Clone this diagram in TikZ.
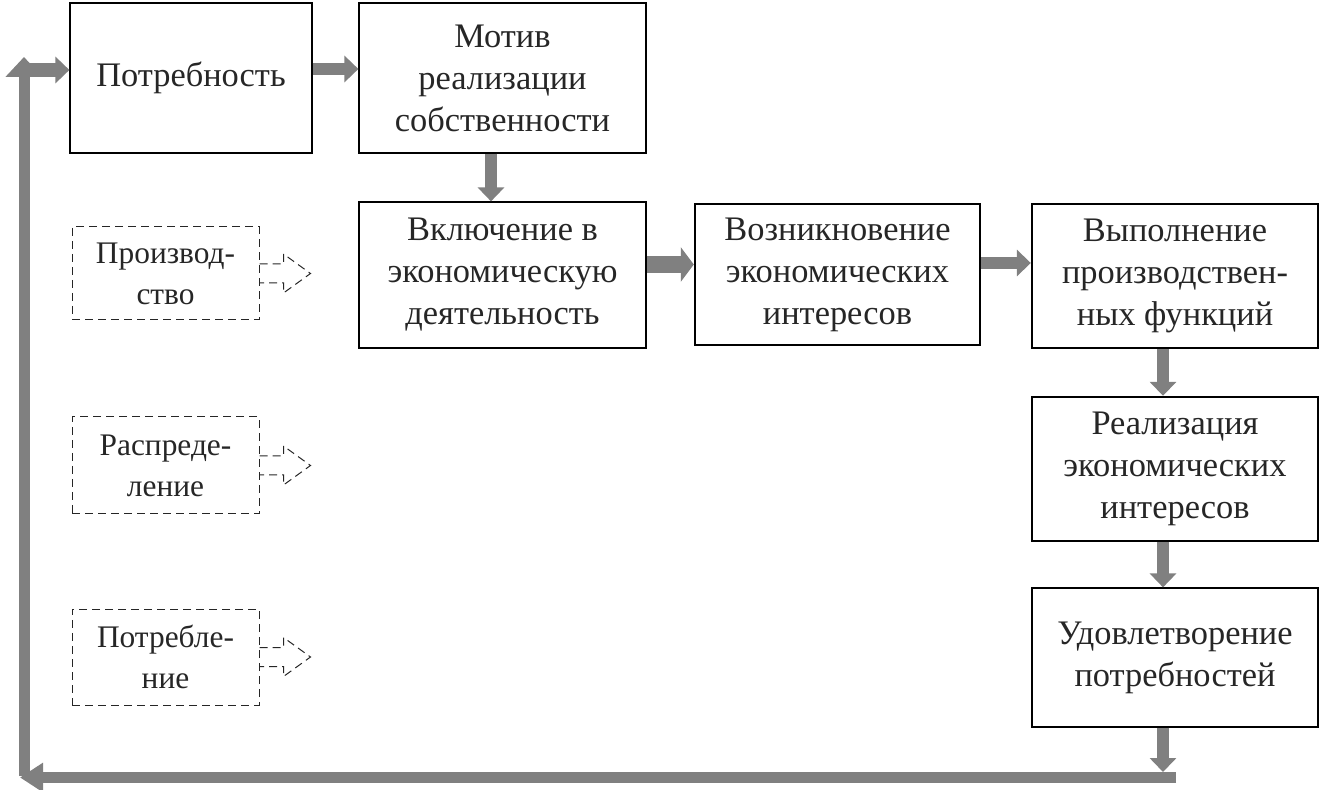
\documentclass[tikz,border=0pt]{standalone}
\usepackage{fontspec}
\setmainfont{Liberation Serif}
\usetikzlibrary{arrows.meta}
\definecolor{shaft}{RGB}{128,128,128}
\definecolor{ink}{RGB}{38,38,38}
\tikzset{
  box/.style={draw=black,line width=0.6pt,text=ink,align=center,
    font=\fontsize{17.2}{21}\selectfont,inner sep=0pt},
  heavy/.style={box,line width=1.2pt},
  ghost/.style={box,draw=ink,dash pattern=on 4pt off 2.5pt,line width=0.5pt,
    minimum width=93.5pt,font=\fontsize{15.7}{20.5}\selectfont},
  flow/.style={draw=shaft,line width=6pt,
    -{Triangle[length=7pt,width=13pt]}},
  dasharrow/.style={draw=ink,line width=0.5pt,dash pattern=on 4pt off 2.5pt},
}
% dashed open arrow leaving the east side of a node
\newcommand{\ghostarrow}[1]{%
  \draw[dasharrow] ([yshift=4.75pt]#1.east) -- ++(12pt,0) -- ++(0,5pt)
    -- ++(13.5pt,-9.75pt) -- ++(-13.5pt,-9.75pt) -- ++(0,5pt)
    -- ([yshift=-4.75pt]#1.east);}

\begin{document}
\begin{tikzpicture}[x=0.5pt,y=-0.5pt]
\useasboundingbox (0,0) rectangle (1322,790);

% main chain
\node[box,minimum width=121pt,minimum height=75pt] (need) at (191,78) {Потребность};
\node[box,minimum width=143.5pt,minimum height=75pt] (motive) at (502.5,78) {Мотив\\реализации\\собственности};
\node[box,minimum width=143.5pt,minimum height=73pt] (join) at (502.5,275) {Включение в\\экономическую\\деятельность};
\node[heavy,minimum width=142.5pt,minimum height=70.5pt] (rise) at (837.5,274.5) {Возникновение\\экономических\\интересов};
\node[heavy,minimum width=143pt,minimum height=72pt] (perform) at (1175,276) {Выполнение\\производствен-\\ных функций};
\node[heavy,minimum width=143pt,minimum height=72pt] (realize) at (1175,469) {Реализация\\экономических\\интересов};
\node[box,minimum width=143pt,minimum height=69.5pt] (satisfy) at (1175,657.5) {Удовлетворение\\потребностей};

% dashed stages
\node[ghost,minimum height=46.5pt] (prod) at (165.5,273.5) {Производ-\\ство};
\node[ghost,minimum height=48.5pt] (distr) at (165.5,465.5) {Распреде-\\ление};
\node[ghost,minimum height=48pt] (cons) at (165.5,657) {Потребле-\\ние};
\ghostarrow{prod}
\ghostarrow{distr}
\ghostarrow{cons}

% arrows
\draw[flow] ([yshift=4.5pt]need.east) -- ([yshift=4.5pt]motive.west);
\draw[flow] ([xshift=-5.75pt]motive.south) -- ([xshift=-5.75pt]join.north);
\draw[flow,line width=8.5pt,-{Triangle[length=6.5pt,width=17pt]}] ([yshift=5.25pt]join.east) -- ([yshift=5.25pt]join.east -| rise.west);
\draw[flow] ([yshift=5.75pt]rise.east) -- ([yshift=5.75pt]rise.east -| perform.west);
\draw[flow] ([xshift=-6pt]perform.south) -- ([xshift=-6pt]realize.north);
\draw[flow] ([xshift=-6pt]realize.south) -- ([xshift=-6pt]satisfy.north);

% feedback loop
\coordinate (down) at (1163,772);
\coordinate (right) at (1176,777.5);
\coordinate (left) at (20,777.5);
\coordinate (bottom) at (24,776);
\coordinate (top) at (24,57);
\coordinate (start) at (20,70);
\draw[flow] ([xshift=-6pt]satisfy.south) -- (down);
\draw[flow,line width=5.5pt,-{Triangle[length=11.5pt,width=14pt]}] (right) -- (left);
\draw[flow,line width=5.5pt,-{Triangle[length=10pt,width=18pt]}] (bottom) -- (top);
\draw[flow,line width=7pt] (start) -- ([yshift=4pt]need.west);
\end{tikzpicture}
\end{document}
